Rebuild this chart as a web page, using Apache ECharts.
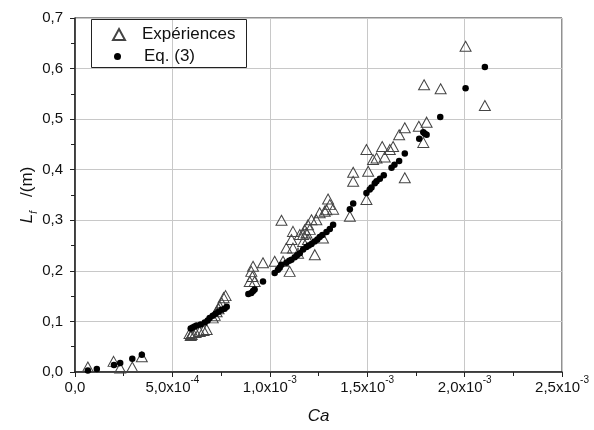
<!DOCTYPE html>
<html>
<head>
<meta charset="utf-8">
<style>
  html, body { margin: 0; padding: 0; background: #fff; }
  #chart { width: 594px; height: 430px; }
</style>
<script src="https://cdn.jsdelivr.net/npm/echarts@6/dist/echarts.min.js"></script>
</head>
<body>
<div id="chart"></div>
<script>
// Capillary number Ca vs. length L_f (m)
const experiences = [
  [6.6e-5, 0.010], [1.98e-4, 0.021], [2.32e-4, 0.008], [2.94e-4, 0.010], [3.43e-4, 0.030],
  [5.88e-4, 0.076], [5.94e-4, 0.072], [5.99e-4, 0.074], [6.04e-4, 0.078], [6.19e-4, 0.078],
  [6.40e-4, 0.080], [6.60e-4, 0.082], [6.76e-4, 0.084], [7.07e-4, 0.107], [7.17e-4, 0.112],
  [7.27e-4, 0.119], [7.37e-4, 0.125], [7.42e-4, 0.131], [7.53e-4, 0.137], [7.63e-4, 0.147],
  [7.73e-4, 0.151],
  [8.97e-4, 0.179], [9.05e-4, 0.199], [9.11e-4, 0.189], [9.14e-4, 0.209], [9.22e-4, 0.179],
  [9.65e-4, 0.216], [1.025e-3, 0.219], [1.060e-3, 0.300], [1.068e-3, 0.219], [1.085e-3, 0.245],
  [1.102e-3, 0.199], [1.111e-3, 0.262], [1.119e-3, 0.245], [1.119e-3, 0.278], [1.145e-3, 0.235],
  [1.154e-3, 0.272], [1.171e-3, 0.258], [1.171e-3, 0.272], [1.179e-3, 0.281], [1.188e-3, 0.275],
  [1.196e-3, 0.262], [1.196e-3, 0.291], [1.205e-3, 0.282], [1.214e-3, 0.301], [1.231e-3, 0.232],
  [1.239e-3, 0.301], [1.256e-3, 0.315], [1.273e-3, 0.265], [1.282e-3, 0.318], [1.291e-3, 0.321],
  [1.299e-3, 0.342], [1.308e-3, 0.331], [1.325e-3, 0.322],
  [1.411e-3, 0.308], [1.428e-3, 0.377], [1.428e-3, 0.395], [1.496e-3, 0.341], [1.505e-3, 0.397],
  [1.496e-3, 0.440], [1.530e-3, 0.420], [1.548e-3, 0.423], [1.577e-3, 0.446], [1.590e-3, 0.425],
  [1.616e-3, 0.440], [1.633e-3, 0.446], [1.664e-3, 0.469], [1.693e-3, 0.483], [1.693e-3, 0.384],
  [1.765e-3, 0.486], [1.788e-3, 0.454], [1.805e-3, 0.494], [1.792e-3, 0.568], [1.877e-3, 0.560],
  [2.005e-3, 0.644], [2.104e-3, 0.527]
];

const equation3 = [
  [6.6e-5, 0.003], [1.12e-4, 0.006], [2.00e-4, 0.014], [2.32e-4, 0.018], [2.94e-4, 0.026], [3.43e-4, 0.034],
  [5.94e-4, 0.086], [6.04e-4, 0.088], [6.14e-4, 0.090], [6.24e-4, 0.092], [6.45e-4, 0.094],
  [6.66e-4, 0.098], [6.81e-4, 0.102], [6.91e-4, 0.107], [7.07e-4, 0.111], [7.22e-4, 0.115],
  [7.37e-4, 0.119], [7.53e-4, 0.123], [7.68e-4, 0.125], [7.79e-4, 0.129],
  [8.90e-4, 0.154], [9.05e-4, 0.156], [9.14e-4, 0.160], [9.22e-4, 0.163], [9.65e-4, 0.179],
  [1.025e-3, 0.196], [1.042e-3, 0.202], [1.051e-3, 0.206], [1.060e-3, 0.212], [1.085e-3, 0.216],
  [1.100e-3, 0.220], [1.111e-3, 0.222], [1.128e-3, 0.227], [1.140e-3, 0.231], [1.154e-3, 0.235],
  [1.171e-3, 0.242], [1.188e-3, 0.247], [1.200e-3, 0.250], [1.214e-3, 0.253], [1.230e-3, 0.258],
  [1.244e-3, 0.262], [1.256e-3, 0.267], [1.270e-3, 0.271], [1.291e-3, 0.277], [1.308e-3, 0.283],
  [1.325e-3, 0.291],
  [1.411e-3, 0.322], [1.428e-3, 0.333], [1.496e-3, 0.354], [1.513e-3, 0.361], [1.522e-3, 0.365],
  [1.539e-3, 0.373], [1.548e-3, 0.377], [1.565e-3, 0.382], [1.585e-3, 0.389], [1.625e-3, 0.404],
  [1.640e-3, 0.410], [1.664e-3, 0.417], [1.693e-3, 0.432], [1.767e-3, 0.461], [1.788e-3, 0.474],
  [1.796e-3, 0.471], [1.805e-3, 0.469], [1.875e-3, 0.504], [2.005e-3, 0.561], [2.104e-3, 0.603]
];

// Tick labels: [mantissa, exponent]
const xTickLabels = [['0,0', ''], ['5,0x10', '-4'], ['1,0x10', '-3'], ['1,5x10', '-3'], ['2,0x10', '-3'], ['2,5x10', '-3']];
const yTickLabels = ['0,0', '0,1', '0,2', '0,3', '0,4', '0,5', '0,6', '0,7'];

const FONT = 'Liberation Sans, Arial, sans-serif';
const chart = echarts.init(document.getElementById('chart'), null, { renderer: 'canvas' });

chart.setOption({
  backgroundColor: '#fff',
  animation: false,
  grid: {
    left: 75, top: 18, right: 32, bottom: 58,
    show: true, borderColor: '#222', borderWidth: 1, backgroundColor: 'transparent'
  },
  xAxis: {
    type: 'value', min: 0, max: 0.0025, interval: 0.0005,
    name: 'Ca', nameLocation: 'middle', nameGap: 36, nameMoveOverlap: false,
    nameTextStyle: { fontFamily: FONT, fontSize: 17, fontStyle: 'italic', color: '#111' },
    axisLine: { show: true, onZero: false, lineStyle: { color: '#222', width: 1.5 } },
    axisTick: { show: true, inside: false, length: 5, lineStyle: { color: '#222' } },
    minorTick: { show: true, splitNumber: 2, length: 4, lineStyle: { color: '#222' } },
    splitLine: { show: true, lineStyle: { color: '#c8c8c8', width: 1 } },
    axisLabel: {
      margin: 3,
      formatter: function (v) {
        const t = xTickLabels[Math.round(v / 0.0005)];
        return t[1] ? '{m|' + t[0] + '}{e|' + t[1] + '}' : '{m|' + t[0] + '}';
      },
      rich: {
        m: { fontFamily: FONT, fontSize: 15, color: '#111', lineHeight: 20, verticalAlign: 'bottom' },
        e: { fontFamily: FONT, fontSize: 10, color: '#111', lineHeight: 20, verticalAlign: 'top' }
      }
    }
  },
  yAxis: {
    type: 'value', min: 0, max: 0.7, interval: 0.1,
    name: '{l|L}{f|f}{u|   /(m)}', nameLocation: 'middle', nameGap: 36, nameMoveOverlap: false,
    nameTextStyle: {
      rich: {
        l: { fontFamily: FONT, fontSize: 17, fontStyle: 'italic', color: '#111', lineHeight: 20, verticalAlign: 'top' },
        f: { fontFamily: FONT, fontSize: 10, fontStyle: 'italic', color: '#111', lineHeight: 20, verticalAlign: 'bottom' },
        u: { fontFamily: FONT, fontSize: 17, color: '#111', lineHeight: 20, verticalAlign: 'top' }
      }
    },
    axisLine: { show: true, onZero: false, lineStyle: { color: '#222', width: 1.5 } },
    axisTick: { show: true, inside: false, length: 5, lineStyle: { color: '#222' } },
    minorTick: { show: true, splitNumber: 2, length: 4, lineStyle: { color: '#222' } },
    splitLine: { show: true, lineStyle: { color: '#c8c8c8', width: 1 } },
    axisLabel: {
      margin: 12, fontFamily: FONT, fontSize: 15, color: '#111',
      formatter: function (v) { return yTickLabels[Math.round(v / 0.1)]; }
    }
  },
  legend: [
    {
      data: ['Expériences'], left: 112, top: 26, padding: 0,
      itemWidth: 12, itemHeight: 11,
      textStyle: { fontFamily: FONT, fontSize: 17, color: '#111', padding: [0, 0, 0, 12] }
    },
    {
      data: ['Eq. (3)'], left: 114, top: 48, padding: 0,
      itemWidth: 8, itemHeight: 7,
      textStyle: { fontFamily: FONT, fontSize: 17, color: '#111', padding: [0, 0, 0, 17.5] }
    }
  ],
  graphic: [{
    type: 'rect', left: 91, top: 19, z: 100,
    shape: { width: 155, height: 48 },
    style: { fill: 'transparent', stroke: '#222', lineWidth: 1 }
  }],
  series: [
    {
      name: 'Expériences', type: 'scatter', data: experiences,
      symbol: 'triangle', symbolSize: [11, 10],
      itemStyle: { color: 'rgba(255,255,255,0)', borderColor: '#444', borderWidth: 1, opacity: 1 },
      z: 2
    },
    {
      name: 'Eq. (3)', type: 'scatter', data: equation3,
      symbol: 'circle', symbolSize: 6.5,
      itemStyle: { color: '#000', opacity: 1 },
      z: 3
    }
  ]
});
</script>
</body>
</html>
